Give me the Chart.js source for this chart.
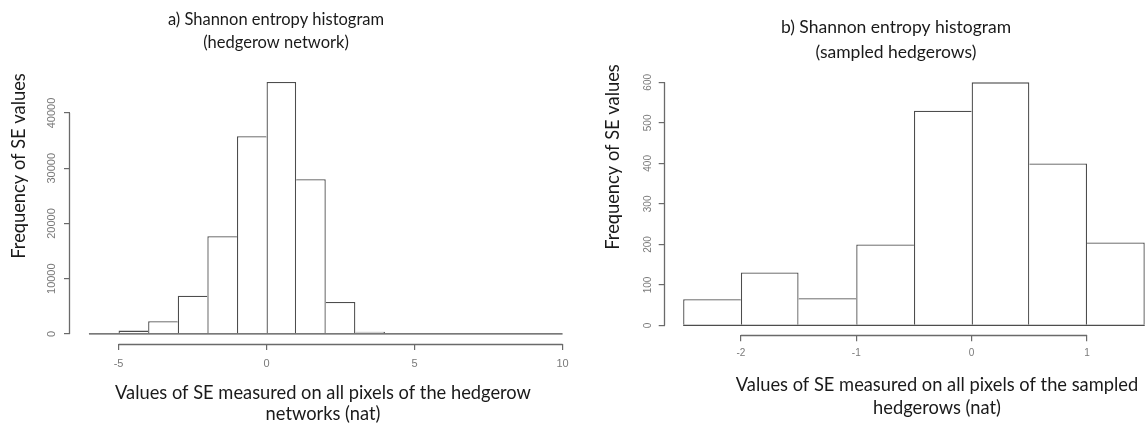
<!DOCTYPE html>
<html>
<head>
<meta charset="utf-8">
<script src="https://cdn.jsdelivr.net/npm/chart.js@4.4.1/dist/chart.umd.min.js"></script>
<style>
  html, body { margin: 0; padding: 0; background: #fff; overflow: hidden; }
  body { width: 1148px; height: 429px; position: relative; }
  canvas { position: absolute; top: 0; }
  #histA { left: 0; }
  #histB { left: 600px; }
</style>
</head>
<body>
<canvas id="histA" width="600" height="429"></canvas>
<canvas id="histB" width="600" height="429"></canvas>
<script>
// a) whole hedgerow network, bins of width 1 from -6 to 10
const networkBins = [-5.5, -4.5, -3.5, -2.5, -1.5, -0.5, 0.5, 1.5, 2.5, 3.5, 4.5, 5.5, 6.5, 7.5, 8.5, 9.5];
const networkCounts = [0, 600, 2300, 6900, 17700, 35800, 45600, 28000, 5800, 400, 0, 0, 0, 0, 0, 0];
const networkTicksX = [-5, 0, 5, 10];
const networkTicksY = [0, 10000, 20000, 30000, 40000];

// b) sampled hedgerows, bins of width 0.5 from -2.5 to 1.5
const sampledBins = [-2.25, -1.75, -1.25, -0.75, -0.25, 0.25, 0.75, 1.25];
const sampledCounts = [65, 131, 67, 200, 530, 600, 400, 205];
const sampledTicksX = [-2, -1, 0, 1];
const sampledTicksY = [0, 100, 200, 300, 400, 500, 600];

const EDGE = '#4d4d4d';
const AXIS = '#6a6a6a';
const TICK = '#7a7a7a';
const TEXT = '#1a1a1a';
const TEXT_FONT = 'Lato, "Open Sans", sans-serif';

// shared edges are drawn once, by the taller of the two neighbouring bars
function edgeWidths(counts, lw) {
  return ctx => {
    const i = ctx.dataIndex;
    const v = counts[i];
    const prev = i > 0 ? counts[i - 1] : -1;
    const next = i < counts.length - 1 ? counts[i + 1] : -1;
    return { top: lw, left: prev <= v ? lw : 0, right: next < v ? lw : 0, bottom: 0 };
  };
}

// R style axes: the axis line only runs from the first to the last tick
function axisLines(ticksX, ticksY) {
  return {
    id: 'axisLines',
    afterDraw(chart) {
      const ctx = chart.ctx;
      const area = chart.chartArea;
      const x = chart.scales.x, y = chart.scales.y;
      const by = Math.round(area.bottom) + 0.5;
      const lx = Math.round(area.left) - 0.5;
      ctx.save();
      ctx.strokeStyle = AXIS;
      ctx.lineWidth = 1.3;
      ctx.beginPath();
      ctx.moveTo(x.getPixelForValue(ticksX[0]), by);
      ctx.lineTo(x.getPixelForValue(ticksX[ticksX.length - 1]), by);
      ctx.moveTo(lx, y.getPixelForValue(ticksY[0]));
      ctx.lineTo(lx, y.getPixelForValue(ticksY[ticksY.length - 1]));
      ctx.stroke();
      ctx.restore();
    }
  };
}

function captions(text) {
  return {
    id: 'captions',
    afterDraw(chart) {
      const ctx = chart.ctx;
      ctx.save();
      ctx.fillStyle = TEXT;
      ctx.textAlign = 'center';
      ctx.textBaseline = 'middle';
      ctx.font = `${text.titleSize}px ${TEXT_FONT}`;
      text.title.forEach((line, i) => ctx.fillText(line, text.titleX, text.titleY[i]));
      ctx.font = `${text.axisSize}px ${TEXT_FONT}`;
      text.xTitle.forEach((line, i) => ctx.fillText(line, text.xTitleX, text.xTitleY[i]));
      ctx.translate(text.yTitleX, text.yTitleY);
      ctx.rotate(-Math.PI / 2);
      ctx.fillText(text.yTitle, 0, 0);
      ctx.restore();
    }
  };
}

function histogram(id, bins, counts, ticksX, ticksY, layout, text) {
  const w = bins[1] - bins[0];
  const lo = bins[0] - w / 2;
  const hi = bins[bins.length - 1] + w / 2;
  const top = Math.max(...counts);
  const tickFont = { family: '"Liberation Sans", Arial, sans-serif', size: layout.tickSize };

  return new Chart(document.getElementById(id), {
    type: 'bar',
    data: {
      datasets: [
        {
          data: bins.map((b, i) => ({ x: b, y: counts[i] })),
          backgroundColor: '#fff',
          borderColor: EDGE,
          borderWidth: edgeWidths(counts, 1.3),
          borderSkipped: false,
          inflateAmount: 0,
          barPercentage: 1,
          categoryPercentage: 1,
          order: 1
        },
        {
          // empty bins still leave their bottom edge along the baseline
          type: 'line',
          data: [{ x: lo, y: 0 }, { x: hi, y: 0 }],
          borderColor: EDGE,
          borderWidth: 1.3,
          pointRadius: 0,
          order: 0
        }
      ]
    },
    options: {
      responsive: false,
      animation: false,
      layout: { padding: layout.padding },
      plugins: {
        legend: { display: false },
        tooltip: { enabled: false }
      },
      scales: {
        x: {
          type: 'linear',
          offset: false,
          min: lo - 0.04 * (hi - lo),
          max: hi + 0.04 * (hi - lo),
          afterBuildTicks: s => { s.ticks = ticksX.map(v => ({ value: v })); },
          afterFit: s => { s.height = layout.xAxisHeight; },
          border: { display: false },
          grid: { offset: false, drawOnChartArea: false, tickLength: 6, color: AXIS, lineWidth: 1.2 },
          ticks: {
            autoSkip: false,
            maxRotation: 0,
            padding: layout.xTickPad,
            color: TICK,
            font: tickFont,
            callback: v => String(v)
          }
        },
        y: {
          min: -0.04 * top,
          max: 1.04 * top,
          afterBuildTicks: s => { s.ticks = ticksY.map(v => ({ value: v })); },
          afterFit: s => { s.width = layout.yAxisWidth; },
          border: { display: false },
          grid: { drawOnChartArea: false, tickLength: 6, color: AXIS, lineWidth: 1.2 },
          ticks: {
            autoSkip: false,
            minRotation: 90,
            maxRotation: 90,
            crossAlign: 'center',
            padding: layout.yTickPad,
            color: TICK,
            font: tickFont,
            callback: v => String(v)
          }
        }
      }
    },
    plugins: [axisLines(ticksX, ticksY), captions(text)]
  });
}

histogram('histA', networkBins, networkCounts, networkTicksX, networkTicksY, {
  padding: { left: 30, top: 72, right: 18.5, bottom: 55 },
  yAxisWidth: 40,
  xAxisHeight: 30,
  xTickPad: 7,
  yTickPad: -3,
  tickSize: 11
}, {
  title: ['a) Shannon entropy histogram', '(hedgerow network)'],
  titleX: 276, titleY: [20, 43], titleSize: 16.5,
  xTitle: ['Values of SE measured on all pixels of the hedgerow', 'networks (nat)'],
  xTitleX: 323, xTitleY: [393, 414],
  yTitle: 'Frequency of SE values', yTitleX: 19, yTitleY: 166,
  axisSize: 18.3
});

histogram('histB', sampledBins, sampledCounts, sampledTicksX, sampledTicksY, {
  padding: { left: 24.7, top: 72.6, right: 36.8, bottom: 63.8 },
  yAxisWidth: 40,
  xAxisHeight: 30,
  xTickPad: 6,
  yTickPad: 2.4,
  tickSize: 10
}, {
  title: ['b) Shannon entropy histogram', '(sampled hedgerows)'],
  titleX: 296, titleY: [27, 52], titleSize: 17.5,
  xTitle: ['Values of SE measured on all pixels of the sampled', 'hedgerows (nat)'],
  xTitleX: 337, xTitleY: [385, 408],
  yTitle: 'Frequency of SE values', yTitleX: 13, yTitleY: 157,
  axisSize: 18.3
});
</script>
</body>
</html>
